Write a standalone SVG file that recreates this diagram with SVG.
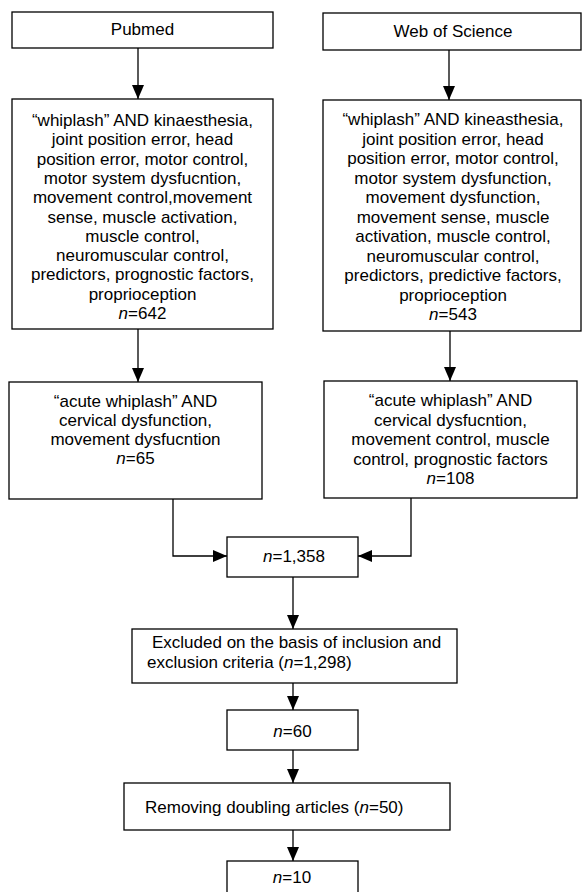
<svg xmlns="http://www.w3.org/2000/svg" width="583" height="892" viewBox="0 0 583 892">
<defs>
<marker id="ah" markerUnits="userSpaceOnUse" markerWidth="14" markerHeight="12" refX="14" refY="6" orient="auto">
<path d="M0,0 L14,6 L0,12 z" fill="#000"/>
</marker>
<style>
.box{fill:#fff;stroke:#000;stroke-width:1.3}
.t{font-family:"Liberation Sans",Arial,sans-serif;font-size:17px;fill:#000}
.c{text-anchor:middle}
.i{font-style:italic}
.ln{fill:none;stroke:#000;stroke-width:1.3}
</style>
</defs>
<rect width="583" height="892" fill="#fff"/>
<g id="connectors">
<line class="ln" x1="138" y1="48" x2="138" y2="99" marker-end="url(#ah)"/>
<line class="ln" x1="449" y1="50" x2="449" y2="100" marker-end="url(#ah)"/>
<line class="ln" x1="138" y1="329" x2="138" y2="382" marker-end="url(#ah)"/>
<line class="ln" x1="450" y1="331" x2="450" y2="381" marker-end="url(#ah)"/>
<polyline class="ln" points="173,499 173,556 227,556" marker-end="url(#ah)"/>
<polyline class="ln" points="411,498 411,556 358,556" marker-end="url(#ah)"/>
<line class="ln" x1="293" y1="577" x2="293" y2="629" marker-end="url(#ah)"/>
<line class="ln" x1="293" y1="683" x2="293" y2="710" marker-end="url(#ah)"/>
<line class="ln" x1="293" y1="750" x2="293" y2="783" marker-end="url(#ah)"/>
<line class="ln" x1="293" y1="830" x2="293" y2="861" marker-end="url(#ah)"/>
</g>
<g id="pubmed">
<rect class="box" x="12" y="12" width="261" height="36"/>
<text class="t c" x="142.5" y="35">Pubmed</text>
</g>
<g id="wos">
<rect class="box" x="323" y="13" width="258" height="37"/>
<text class="t c" x="453" y="37">Web of Science</text>
</g>
<g id="pubmed-query">
<rect class="box" x="12" y="99" width="261" height="230"/>
<text class="t c" x="142.5" y="126">“whiplash” AND kinaesthesia,</text>
<text class="t c" x="142.5" y="145.3">joint position error, head</text>
<text class="t c" x="142.5" y="164.6">position error, motor control,</text>
<text class="t c" x="142.5" y="183.9">motor system dysfucntion,</text>
<text class="t c" x="142.5" y="203.2">movement control,movement</text>
<text class="t c" x="142.5" y="222.5">sense, muscle activation,</text>
<text class="t c" x="142.5" y="241.8">muscle control,</text>
<text class="t c" x="142.5" y="261.1">neuromuscular control,</text>
<text class="t c" x="142.5" y="280.4">predictors, prognostic factors,</text>
<text class="t c" x="142.5" y="299.7">proprioception</text>
<text class="t c" x="142.5" y="319"><tspan class="i">n</tspan>=642</text>
</g>
<g id="wos-query">
<rect class="box" x="323" y="100" width="258" height="231"/>
<text class="t c" x="453" y="125">“whiplash” AND kineasthesia,</text>
<text class="t c" x="453" y="144.5">joint position error, head</text>
<text class="t c" x="453" y="164">position error, motor control,</text>
<text class="t c" x="453" y="183.5">motor system dysfunction,</text>
<text class="t c" x="453" y="203">movement dysfunction,</text>
<text class="t c" x="453" y="222.5">movement sense, muscle</text>
<text class="t c" x="453" y="242">activation, muscle control,</text>
<text class="t c" x="453" y="261.5">neuromuscular control,</text>
<text class="t c" x="453" y="281">predictors, predictive factors,</text>
<text class="t c" x="453" y="300.5">proprioception</text>
<text class="t c" x="453" y="320"><tspan class="i">n</tspan>=543</text>
</g>
<g id="pubmed-acute">
<rect class="box" x="9" y="382" width="253" height="117"/>
<text class="t c" x="135.5" y="406.5">“acute whiplash” AND</text>
<text class="t c" x="135.5" y="425.8">cervical dysfunction,</text>
<text class="t c" x="135.5" y="445.1">movement dysfucntion</text>
<text class="t c" x="135.5" y="464.4"><tspan class="i">n</tspan>=65</text>
</g>
<g id="wos-acute">
<rect class="box" x="324" y="381" width="253" height="117"/>
<text class="t c" x="450.5" y="406">“acute whiplash” AND</text>
<text class="t c" x="450.5" y="425.5">cervical dysfucntion,</text>
<text class="t c" x="450.5" y="445">movement control, muscle</text>
<text class="t c" x="450.5" y="464.5">control, prognostic factors</text>
<text class="t c" x="450.5" y="484"><tspan class="i">n</tspan>=108</text>
</g>
<g id="total">
<rect class="box" x="227" y="537" width="131" height="40"/>
<text class="t c" x="294" y="562"><tspan class="i">n</tspan>=1,358</text>
</g>
<g id="excluded">
<rect class="box" x="132" y="629" width="325" height="54"/>
<text class="t" x="152" y="648">Excluded on the basis of inclusion and</text>
<text class="t" x="147" y="668">exclusion criteria (<tspan class="i">n</tspan>=1,298)</text>
</g>
<g id="n60">
<rect class="box" x="227" y="710" width="131" height="40"/>
<text class="t c" x="292.5" y="737"><tspan class="i">n</tspan>=60</text>
</g>
<g id="removing">
<rect class="box" x="124" y="783" width="326" height="47"/>
<text class="t" x="145" y="813">Removing doubling articles (<tspan class="i">n</tspan>=50)</text>
</g>
<g id="n10">
<rect class="box" x="227" y="861" width="131" height="40"/>
<text class="t c" x="292" y="883"><tspan class="i">n</tspan>=10</text>
</g>
</svg>
